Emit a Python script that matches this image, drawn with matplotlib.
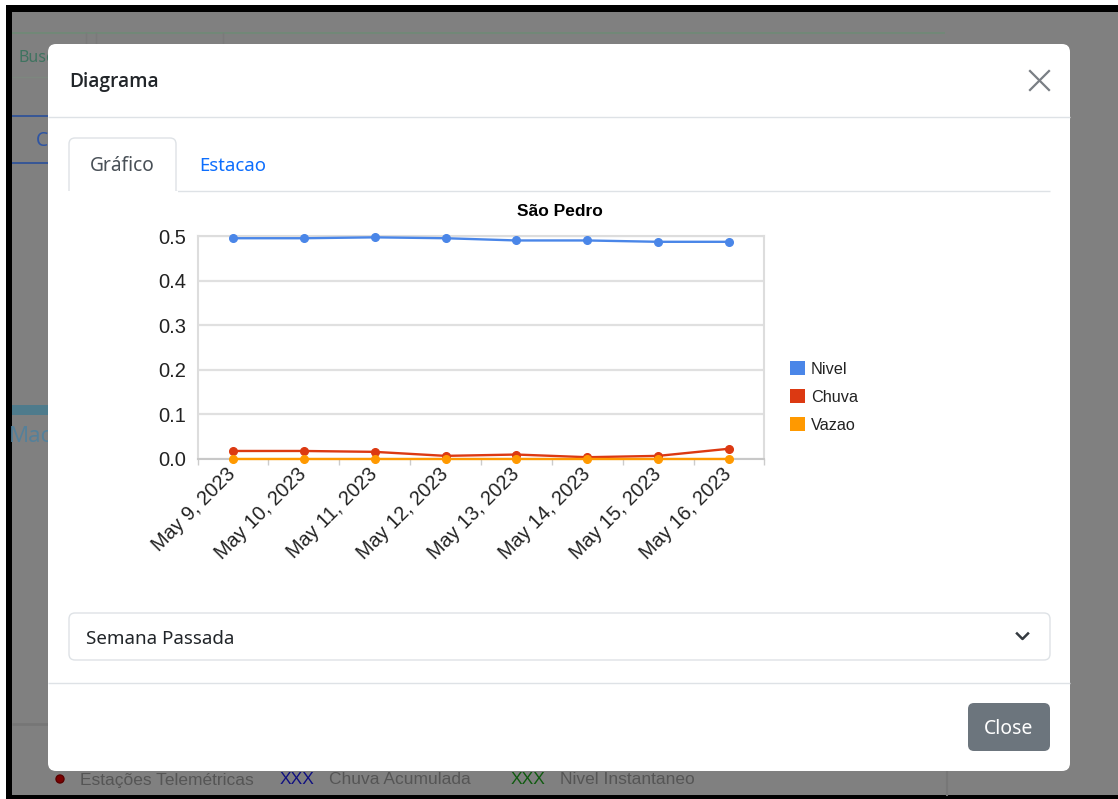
import matplotlib
matplotlib.use('Agg')
import matplotlib.pyplot as plt
from matplotlib.patches import FancyBboxPatch, Rectangle, Patch, Circle
from matplotlib.ticker import FormatStrFormatter, FixedLocator

# chart data
dates = ['May 9, 2023', 'May 10, 2023', 'May 11, 2023', 'May 12, 2023',
         'May 13, 2023', 'May 14, 2023', 'May 15, 2023', 'May 16, 2023']
nivel = [0.495, 0.495, 0.497, 0.495, 0.490, 0.490, 0.487, 0.487]
chuva = [0.018, 0.018, 0.016, 0.007, 0.010, 0.004, 0.007, 0.023]
vazao = [0.0, 0.0, 0.0, 0.0, 0.0, 0.0, 0.0, 0.0]
series_names = ['Nivel', 'Chuva', 'Vazao']
series_colors = ['#4a86e8', '#dc3912', '#ff9900']
y_ticks = [0.0, 0.1, 0.2, 0.3, 0.4, 0.5]

plt.rcParams['font.family'] = ['Liberation Sans', 'DejaVu Sans']
UI_FONT = ['Noto Sans', 'DejaVu Sans']
HEAD_FONT = ['Open Sans', 'Noto Sans', 'DejaVu Sans']
BG_FONT = ['Liberation Sans Narrow', 'Liberation Sans']

W, H = 1118, 799
fig = plt.figure(figsize=(W / 100, H / 100), dpi=100)
fig.patch.set_facecolor('white')

# full-figure axes in pixel coordinates for the page / modal chrome
ui = fig.add_axes([0, 0, 1, 1])
ui.set_xlim(0, W)
ui.set_ylim(H, 0)
ui.axis('off')


def box(x0, y0, x1, y1, r=0, fc='white', ec='none', lw=1.0, z=1):
    if r:
        p = FancyBboxPatch((x0, y0), x1 - x0, y1 - y0,
                           boxstyle=f'round,pad=0,rounding_size={r}',
                           fc=fc, ec=ec, lw=lw, zorder=z)
    else:
        p = Rectangle((x0, y0), x1 - x0, y1 - y0, fc=fc, ec=ec, lw=lw, zorder=z)
    ui.add_patch(p)


def hline(y, x0, x1, color, lw=1.0, z=1):
    ui.plot([x0, x1], [y, y], color=color, lw=lw, zorder=z, solid_capstyle='butt')


# screenshot frame + dimmed page behind the modal
box(6, 5, W, 12, fc='black')
box(6, 5, 12, H, fc='black')
box(6, 795, W, H, fc='black')
box(12, 12, W, 795, fc='#808080')

hline(33, 12, 945, '#6f8a76', lw=1.2)
hline(77, 12, 60, '#7d877f', lw=1)
for vx in [85.5, 95.5, 222.5]:
    ui.plot([vx, vx], [33, 77], color='#7a7a7a', lw=1, zorder=1)
ui.text(18, 58, 'Buscar', color='#3f7360', fontsize=11.5, va='center', family=UI_FONT, zorder=1)
hline(116, 12, 60, '#2a4f9a', lw=1.2)
hline(163, 12, 60, '#2a4f9a', lw=1.2)
ui.text(36, 141, 'C', color='#2f55a3', fontsize=14, va='center', family=UI_FONT, zorder=1)
box(12, 405, 60, 415, fc='#4e7b8c')
ui.text(9, 437, 'Mac', color='#55809a', fontsize=16, va='center', family=UI_FONT, zorder=1)
hline(724, 12, 60, '#767676', lw=2)
ui.plot([947, 947], [700, 795], color='#777777', lw=1.5, zorder=1)
ui.add_patch(Circle((60, 779), 4, fc='#7a0000', ec='#5a0000', zorder=1))
for tx, label, col in [(80, 'Estações Telemétricas', '#555555'), (280, 'XXX', '#101080'),
                       (329, 'Chuva Acumulada', '#555555'), (511, 'XXX', '#0f5a0f'),
                       (560, 'Nivel Instantaneo', '#555555')]:
    ui.text(tx, 780, label, color=col, fontsize=12.5, va='center', family=BG_FONT, zorder=1)

# modal
box(48, 44, 1070, 771, r=8, fc='white', z=2)
ui.text(69, 82, 'Diagrama', color='#212529', fontsize=13.8, fontweight='semibold',
        va='center', family=HEAD_FONT, zorder=3)
ui.plot([1030, 1049], [71, 90], color='#7a7f85', lw=1.6, zorder=3)
ui.plot([1030, 1049], [90, 71], color='#7a7f85', lw=1.6, zorder=3)
hline(116.5, 48, 1070, '#dee2e6', lw=1, z=3)

# tabs
hline(190.5, 69, 1050, '#dee2e6', lw=1, z=3)
box(69, 138, 176, 200, r=6, fc='white', ec='#dee2e6', lw=1, z=4)
box(68, 191, 177.5, 202, fc='white', z=5)
ui.text(122.5, 166, 'Gráfico', color='#495057', fontsize=13.8, ha='center', va='center',
        family=UI_FONT, zorder=6)
ui.text(199, 166, 'Estacao', color='#0d6efd', fontsize=13.4, va='center',
        family=UI_FONT, zorder=6)

# select box
box(69, 613, 1050, 660, r=6, fc='white', ec='#dee2e6', lw=1, z=3)
ui.text(86, 638.5, 'Semana Passada', color='#212529', fontsize=13.5, va='center',
        family=UI_FONT, zorder=4)
ui.plot([1017, 1022.5, 1028], [633.5, 639, 633.5], color='#343a40', lw=1.8, zorder=4)

# footer
hline(682.5, 48, 1070, '#dee2e6', lw=1, z=3)
box(968, 703, 1050, 751, r=6, fc='#6c757d', z=3)
ui.text(1009, 728.5, 'Close', color='white', fontsize=14, ha='center', va='center',
        family=UI_FONT, zorder=4)

# the chart itself
px_left, px_right, px_top, px_bottom = 197.6, 764.4, 236, 459
ax = fig.add_axes([px_left / W, (H - px_bottom) / H,
                   (px_right - px_left) / W, (px_bottom - px_top) / H])
ax.set_facecolor('none')
ax.set_zorder(10)

x = list(range(len(dates)))
for vals, name, col in zip([nivel, chuva, vazao], series_names, series_colors):
    ax.plot(x, vals, color=col, lw=1.7, marker='o', ms=5.5, label=name,
            clip_on=False, zorder=4)

ax.set_xlim(-0.5, len(dates) - 0.5)
ax.set_ylim(0, 0.5)
ax.set_yticks(y_ticks)
ax.yaxis.set_major_formatter(FormatStrFormatter('%.1f'))
ax.tick_params(axis='y', length=0, pad=8, labelsize=14.5, labelcolor='#222222')
ax.grid(axis='y', color='#e0e0e0', lw=1.6)
ax.set_axisbelow(True)

ax.set_xticks(x)
ax.set_xticklabels(dates, rotation=45, ha='right', va='center', rotation_mode='anchor')
ax.xaxis.set_minor_locator(FixedLocator([i - 0.5 for i in range(len(dates) + 1)]))
ax.tick_params(axis='x', which='major', length=0, pad=9, labelsize=14.3, labelcolor='#222222')
ax.tick_params(axis='x', which='minor', length=4, width=1, color='#cccccc')

for side in ['left', 'right', 'top']:
    ax.spines[side].set_color('#dddddd')
    ax.spines[side].set_linewidth(1.5)
ax.spines['bottom'].set_color('#c8c8c8')
ax.spines['bottom'].set_linewidth(1.5)

ax.text(0.639, 1.112, 'São Pedro', transform=ax.transAxes, ha='center', va='center',
        fontsize=12.5, fontweight='bold', color='#000000')

handles = [Patch(fc=c, ec='none') for c in series_colors]
leg = ax.legend(handles, series_names, loc='center left', bbox_to_anchor=(1.045, 0.278),
                frameon=False, fontsize=11.7, handlelength=0.95, handleheight=0.95,
                handletextpad=0.35, labelspacing=0.75, borderpad=0, borderaxespad=0)
for t in leg.get_texts():
    t.set_color('#222222')

fig.savefig('out.png', dpi=100, facecolor=fig.get_facecolor())
